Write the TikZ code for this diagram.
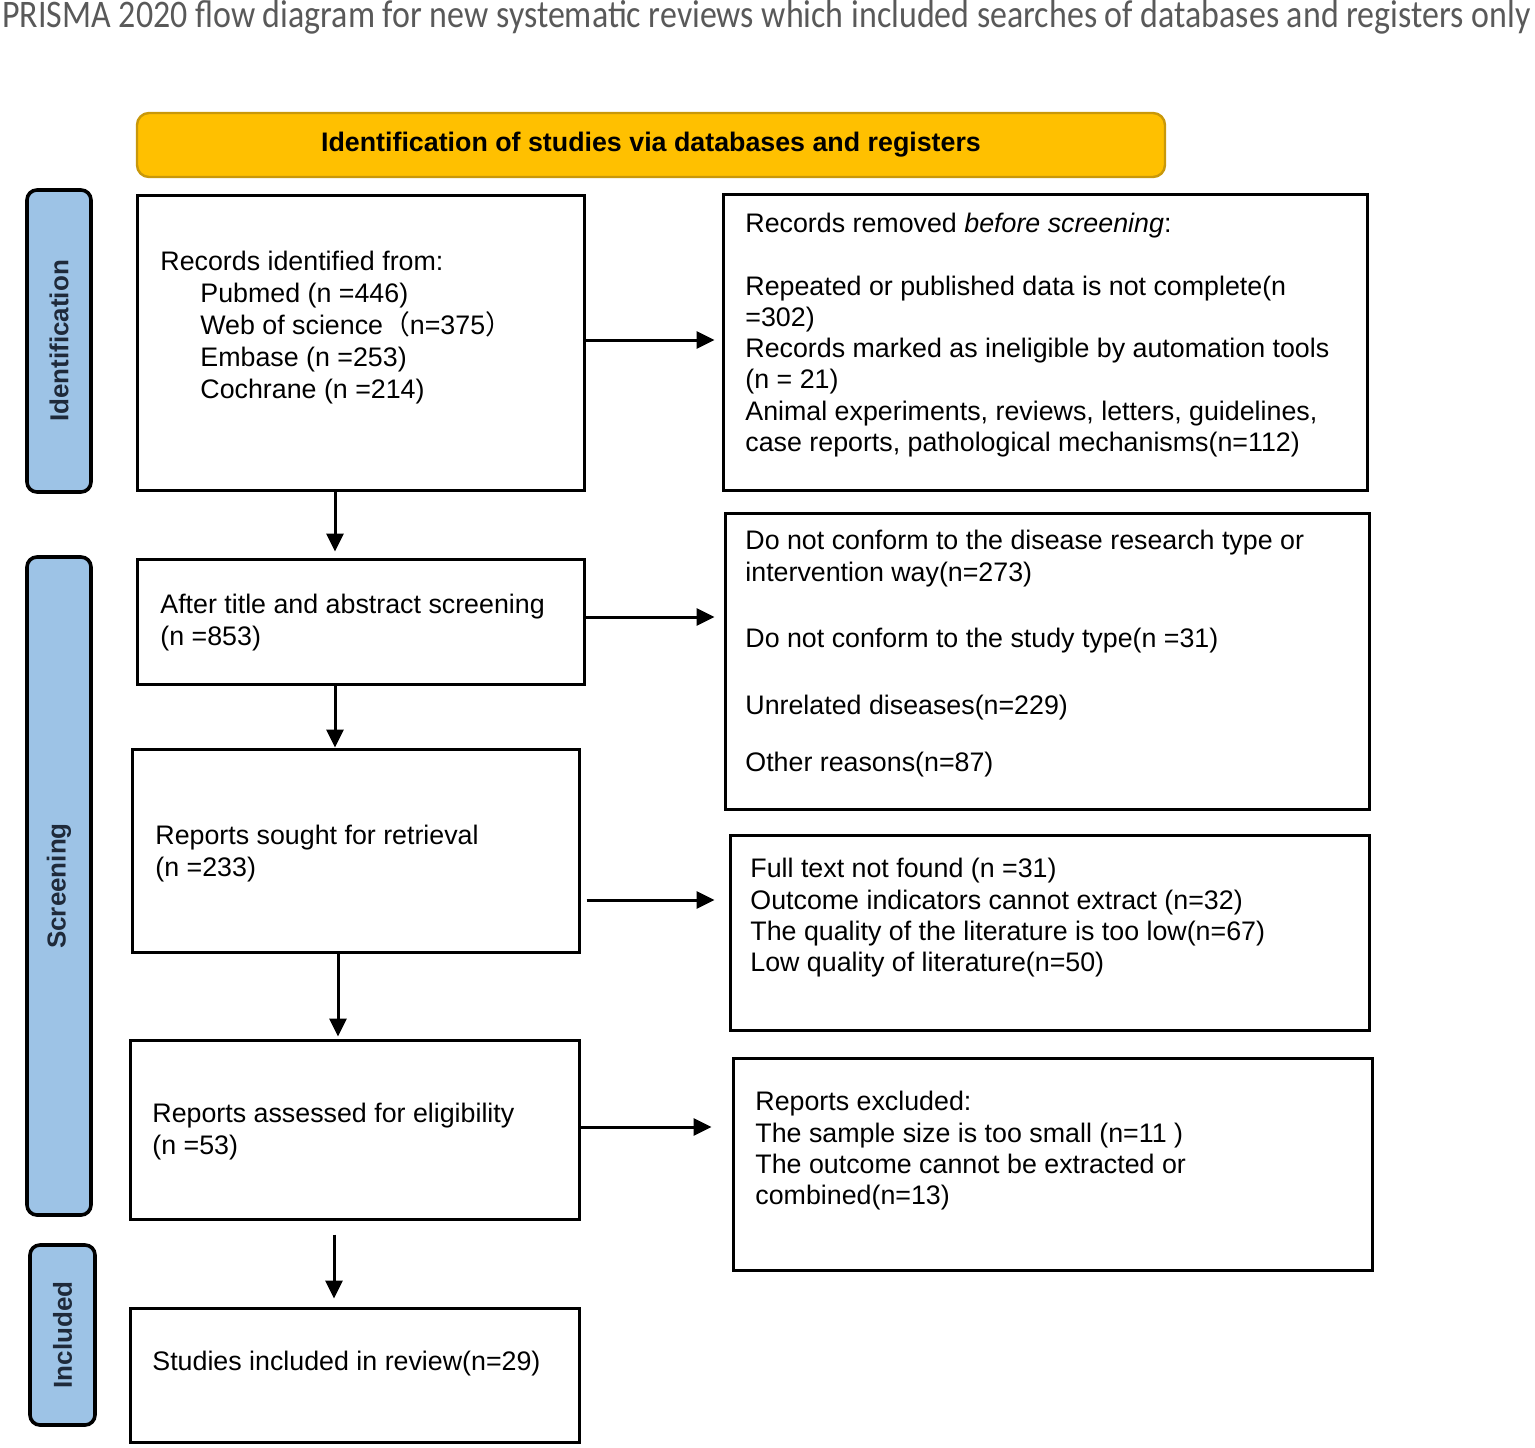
\documentclass[tikz,border=0pt]{standalone}
\usepackage{graphicx}
\usepackage{fontspec}
\setmainfont{Liberation Sans}
\newfontfamily\titlefont{Carlito}
\newfontfamily\cjkfont{Noto Sans CJK SC}
\usetikzlibrary{arrows.meta,fit,calc}
\definecolor{bannerfill}{HTML}{FFC000}
\definecolor{bannerline}{HTML}{C9980A}
\definecolor{sidefill}{HTML}{9DC3E6}
\definecolor{sidetext}{HTML}{1F2A3A}
\definecolor{titlegray}{HTML}{595959}
\begin{document}
\begin{tikzpicture}[x=0.5pt,y=-0.5pt,
  box/.style={draw=black, line width=1.5pt, inner sep=0pt},
  txt/.style={anchor=north west, inner sep=0pt, align=left, font=\fontsize{13.4}{15.6}\selectfont},
  side/.style={draw=black, line width=1.8pt, fill=sidefill, rounded corners=5pt, rotate=90,
    font=\bfseries\fontsize{13}{15}\selectfont, text=sidetext, inner sep=0pt},
  arr/.style={line width=1.5pt, -{Triangle[length=9pt,width=8.5pt]}},
]
\useasboundingbox (0,0) rectangle (1535,1447);

% title
\node[anchor=north west, inner sep=0pt, text=titlegray] (title) at (2,0)
  {\scalebox{1}[1.15]{\resizebox{764pt}{!}{\titlefont\fontsize{18}{20}\selectfont PRISMA 2020 flow diagram for new systematic reviews which included searches of databases and registers only}}};

% banner
\node[draw=bannerline, line width=1.2pt, fill=bannerfill, rounded corners=6pt,
  fit={(137,113) (1165,177)}, inner sep=0pt] (banner) {};
\node[font=\bfseries\fontsize{13.4}{16}\selectfont] (bannertext) at (banner.center)
  {Identification of studies via databases and registers};

% side labels
\node[side, minimum width=151pt, minimum height=32pt] (sideid) at (59,341) {Identification};
\node[side, minimum width=329pt, minimum height=32pt] (sidescr) at (59,886) {Screening};
\node[side, minimum width=90pt, minimum height=32.5pt] (sideinc) at (62.5,1335) {Included};

% left boxes
\node[box, fit={(137,195) (584,490)}] (b1) {};
\node[box, fit={(137,559) (584,684)}] (b2) {};
\node[box, fit={(132,749) (579,952)}] (b3) {};
\node[box, fit={(130,1040) (579,1219)}] (b4) {};
\node[box, fit={(130,1308) (579,1442)}] (b5) {};

% right boxes
\node[box, fit={(723,194) (1367,490)}] (r1) {};
\node[box, fit={(725,513) (1369,809)}] (r2) {};
\node[box, fit={(730,835) (1369,1030)}] (r3) {};
\node[box, fit={(733,1058) (1372,1270)}] (r4) {};

% texts left
\node[txt, font=\fontsize{13.4}{16}\selectfont] (t1) at (160,251)
  {Records identified from:\\
   \hspace*{20pt}Pubmed (n =446)\\
   \hspace*{20pt}Web of science{\cjkfont （}n=375{\cjkfont ）}\\
   \hspace*{20pt}Embase (n =253)\\
   \hspace*{20pt}Cochrane (n =214)};
\node[txt] (t2) at (160,594) {After title and abstract screening\\(n =853)};
\node[txt] (t3) at (155,825) {Reports sought for retrieval\\(n =233)};
\node[txt] (t4) at (152,1103) {Reports assessed for eligibility\\(n =53)};
\node[txt] (t5) at (152,1351) {Studies included in review(n=29)};

% texts right
\node[txt] (rt1) at (745,213)
  {Records removed \textit{before screening}:\\[15.6pt]
   Repeated or published data is not complete(n\\
   =302)\\
   Records marked as ineligible by automation tools\\
   (n = 21)\\
   Animal experiments, reviews, letters, guidelines,\\
   case reports, pathological mechanisms(n=112)};
\node[txt] (rt2) at (745,530)
  {Do not conform to the disease research type or\\
   intervention way(n=273)\\[17.5pt]
   Do not conform to the study type(n =31)\\[18pt]
   Unrelated diseases(n=229)\\[13pt]
   Other reasons(n=87)};
\node[txt] (rt3) at (750,858)
  {Full text not found (n =31)\\
   Outcome indicators cannot extract (n=32)\\
   The quality of the literature is too low(n=67)\\
   Low quality of literature(n=50)};
\node[txt] (rt4) at (755,1091)
  {Reports excluded:\\
   The sample size is too small (n=11 )\\
   The outcome cannot be extracted or\\
   combined(n=13)};

% horizontal arrows
\draw[arr, shorten >=3.5pt] ([yshift=1.25pt]b1.east) -- ([yshift=1.25pt]b1.east -| r1.west);
\draw[arr, shorten >=4.5pt] ([yshift=2.25pt]b2.east) -- ([yshift=2.25pt]b2.east -| r2.west);
\draw[arr, shorten <=3pt, shorten >=7pt] ([yshift=-24.75pt]b3.east) -- ([yshift=-24.75pt]b3.east -| r3.west);
\draw[arr, shorten >=10pt] ([yshift=1.25pt]b4.east) -- ([yshift=1.25pt]b4.east -| r4.west);

% vertical arrows
\draw[arr, shorten >=3pt] ([xshift=-12.75pt]b1.south) -- ([xshift=-12.75pt]b1.south |- b2.north);
\draw[arr] ([xshift=-12.75pt]b2.south) -- ([xshift=-12.75pt]b2.south |- b3.north);
\draw[arr, shorten >=1pt] ([xshift=-8.75pt]b3.south) -- ([xshift=-8.75pt]b3.south |- b4.north);
\draw[arr, shorten <=7pt, shorten >=4pt] ([xshift=-10.25pt]b4.south) -- ([xshift=-10.25pt]b4.south |- b5.north);
\end{tikzpicture}
\end{document}
